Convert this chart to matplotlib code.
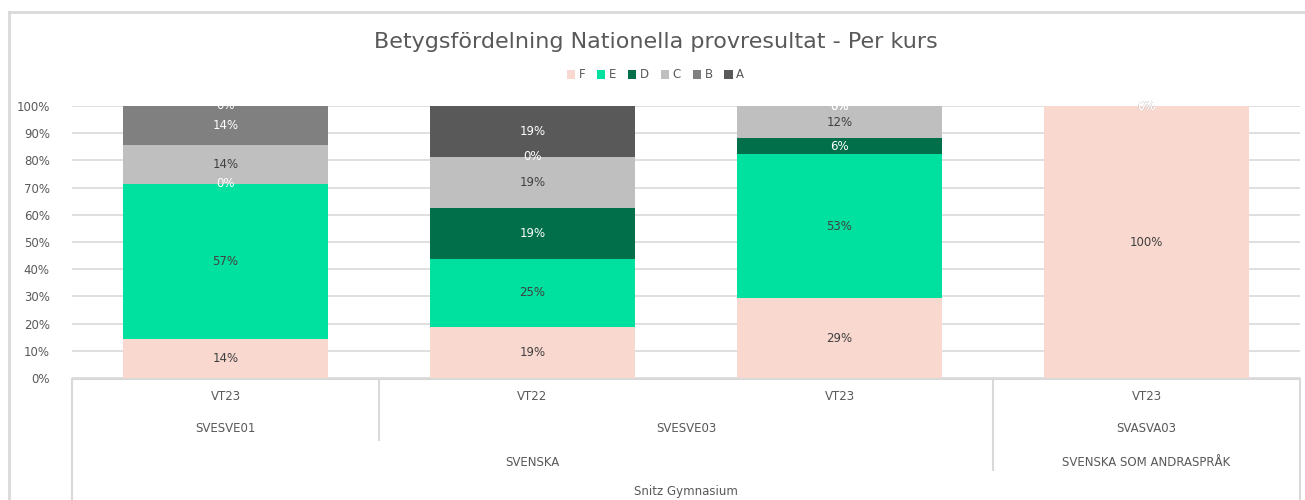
import matplotlib.pyplot as plt
from matplotlib.lines import Line2D
from matplotlib.patches import Patch
import numpy as np

# Data
terms = ["VT23", "VT22", "VT23", "VT23"]
courses = ["SVESVE01", "SVESVE03", "SVASVA03"]
subjects = ["SVENSKA", "SVENSKA SOM ANDRASPRÅK"]
school = "Snitz Gymnasium"
grades = ["F", "E", "D", "C", "B", "A"]
f_vals = [14.29, 18.75, 29.41, 100.0]
e_vals = [57.14, 25.0, 52.94, 0.0]
d_vals = [0.0, 18.75, 5.88, 0.0]
c_vals = [14.29, 18.75, 11.76, 0.0]
b_vals = [14.29, 0.0, 0.0, 0.0]
a_vals = [0.0, 18.75, 0.0, 0.0]

series = [f_vals, e_vals, d_vals, c_vals, b_vals, a_vals]
colors = ["#F8D8CF", "#00E09E", "#006F4A", "#BFBFBF", "#808080", "#595959"]
label_colors = ["#404040", "#404040", "white", "#404040", "white", "white"]
text_col = "#595959"
grid_col = "#D9D9D9"
fs = 8.5

W, H = 1305, 500
fig = plt.figure(figsize=(W / 100, H / 100), dpi=100)
ax = fig.add_axes([72 / W, 1 - 378 / H, 1228 / W, 272 / H])

x = np.arange(len(terms))
bottom = np.zeros(len(terms))
for vals, col in zip(series, colors):
    ax.bar(x, vals, width=0.67, bottom=bottom, color=col, zorder=2)
    bottom += np.array(vals)

# data labels, white ones drawn last so they sit on top
order = [0, 1, 3, 2, 4, 5]
cum = np.vstack([np.zeros(len(terms)), np.cumsum(series, axis=0)])
for i in order:
    for j in range(len(terms)):
        v = series[i][j]
        yc = cum[i][j] + v / 2
        ax.text(x[j], yc, f"{v:.0f}%", ha="center", va="center",
                fontsize=fs, color=label_colors[i], zorder=3)

ax.set_xlim(-0.5, 3.5)
ax.set_ylim(0, 100)
ax.set_yticks(np.arange(0, 101, 10))
ax.set_yticklabels([f"{t}%" for t in range(0, 101, 10)])
ax.tick_params(axis="y", length=0, labelsize=fs, labelcolor=text_col, pad=16)
ax.set_xticks([])
ax.yaxis.grid(True, color=grid_col, lw=1.2, zorder=0)
for s in ax.spines.values():
    s.set_visible(False)

# multi-level category axis
tr = ax.get_xaxis_transform()
def frac(py):
    return (378 - py) / 272

cat_kw = dict(transform=tr, ha="center", va="center", fontsize=fs, color=text_col, clip_on=False)
for j, t in enumerate(terms):
    ax.text(j, frac(397), t, **cat_kw)
ax.text(0, frac(428), courses[0], **cat_kw)
ax.text(1.5, frac(428), courses[1], **cat_kw)
ax.text(3, frac(428), courses[2], **cat_kw)
ax.text(1, frac(463), subjects[0], **cat_kw)
ax.text(3, frac(463), subjects[1], **cat_kw)
ax.text(1.5, frac(492), school, **cat_kw)

seg_kw = dict(transform=tr, color=grid_col, lw=1.5, clip_on=False, zorder=1)
ax.add_line(Line2D([-0.5, 3.5], [frac(379), frac(379)], **seg_kw))
ax.add_line(Line2D([-0.5, -0.5], [frac(379), frac(505)], **seg_kw))
ax.add_line(Line2D([3.5, 3.5], [frac(379), frac(505)], **seg_kw))
ax.add_line(Line2D([0.5, 0.5], [frac(379), frac(440)], **seg_kw))
ax.add_line(Line2D([2.5, 2.5], [frac(379), frac(470)], **seg_kw))

# chart border
fig.add_artist(Line2D([9 / W, 9 / W], [0, 1 - 12 / H], color=grid_col, lw=2, transform=fig.transFigure))
fig.add_artist(Line2D([9 / W, 1], [1 - 12 / H, 1 - 12 / H], color=grid_col, lw=2, transform=fig.transFigure))

fig.text(0.5 + 3 / W, 1 - 42 / H, "Betygsfördelning Nationella provresultat - Per kurs",
         ha="center", va="center", fontsize=16, color=text_col)

handles = [Patch(facecolor=c, edgecolor="none", label=g) for g, c in zip(grades, colors)]
fig.legend(handles=handles, loc="center", bbox_to_anchor=(0.5 + 3 / W, 1 - 75 / H), ncol=6,
           frameon=False, fontsize=fs, handlelength=0.7, handleheight=0.7,
           handletextpad=0.3, columnspacing=1.0, labelcolor=text_col)

fig.savefig("out.png", dpi=100)
